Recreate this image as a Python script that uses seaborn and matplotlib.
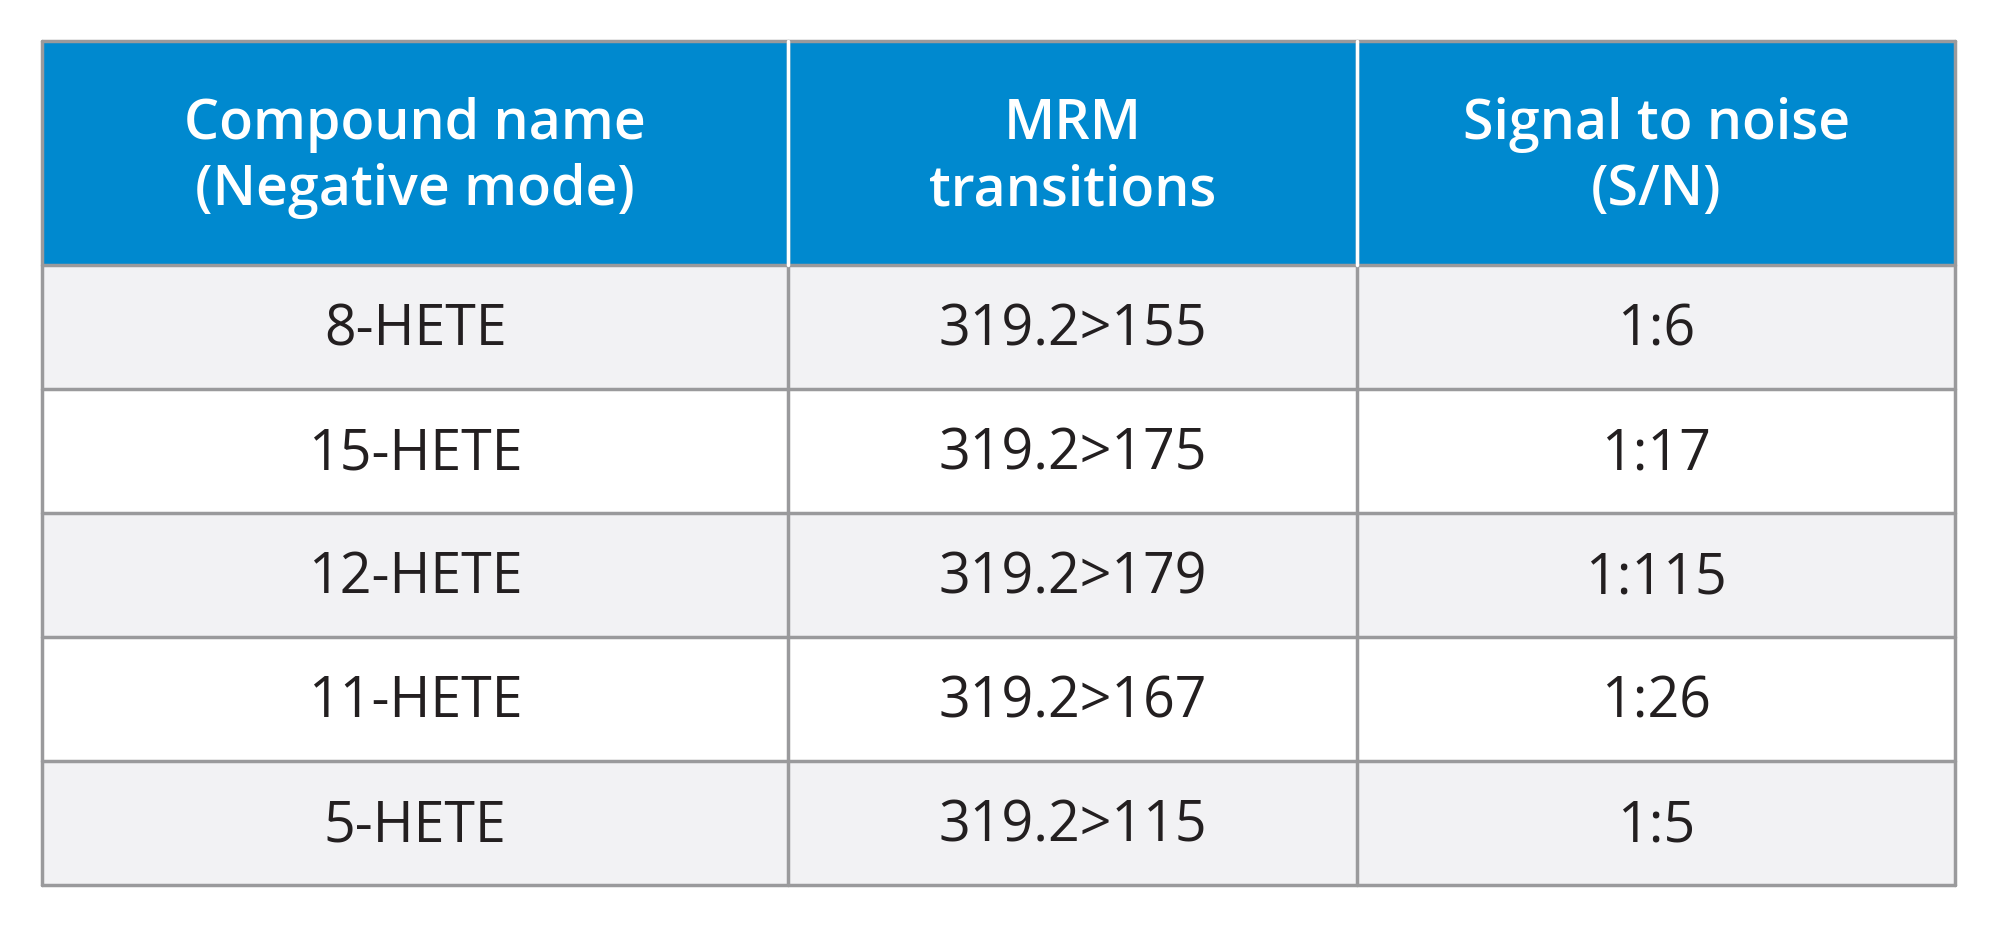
import matplotlib
matplotlib.use("Agg")
import matplotlib.pyplot as plt
import seaborn as sns

sns.set_theme(style="white")
plt.rcParams['font.family'] = ['Open Sans', 'DejaVu Sans']

headers = ["Compound name\n(Negative mode)", "MRM\ntransitions", "Signal to noise\n(S/N)"]
compounds = ["8-HETE", "15-HETE", "12-HETE", "11-HETE", "5-HETE"]
transitions = ["319.2>155", "319.2>175", "319.2>179", "319.2>167", "319.2>115"]
sn = ["1:6", "1:17", "1:115", "1:26", "1:5"]

fig = plt.figure(figsize=(20, 9.37), dpi=100)
ax = fig.add_axes([0, 0, 1, 1])
ax.set_xlim(0, 1568)
ax.set_ylim(735, 0)
ax.axis("off")

col_x = [33, 618, 1064, 1533]
header_top, header_bot = 33, 209
row_h = (695 - 209) / len(compounds)
blue = "#0089CF"
grid = "#9A9A9C"
txt = "#231F20"

ax.add_patch(plt.Rectangle((col_x[0], header_top), col_x[-1] - col_x[0], header_bot - header_top,
                           facecolor=blue, edgecolor="none"))
for i, h in enumerate(headers):
    cx = (col_x[i] + col_x[i + 1]) / 2
    ax.text(cx, (header_top + header_bot) / 2 + 3, h, ha="center", va="center", color="white",
            fontsize=40, fontweight="semibold", linespacing=1.25)

cols = [compounds, transitions, sn]
for r in range(len(compounds)):
    y0 = header_bot + r * row_h
    fc = "#F2F2F4" if r % 2 == 0 else "white"
    ax.add_patch(plt.Rectangle((col_x[0], y0), col_x[-1] - col_x[0], row_h, facecolor=fc, edgecolor="none"))
    for c in range(3):
        cx = (col_x[c] + col_x[c + 1]) / 2
        ax.text(cx, y0 + row_h / 2 + 2, cols[c][r], ha="center", va="center", color=txt, fontsize=40)
    ax.plot([col_x[0], col_x[-1]], [y0, y0], color=grid, lw=2.5)
bottom = header_bot + len(compounds) * row_h
ax.plot([col_x[0], col_x[-1]], [bottom, bottom], color=grid, lw=2.5)
ax.plot([col_x[0], col_x[-1]], [header_top, header_top], color=grid, lw=2.5)
for x in col_x:
    ax.plot([x, x], [header_top, bottom], color=grid if x in (col_x[0], col_x[-1]) else grid, lw=2.5)
for x in col_x[1:-1]:
    ax.plot([x, x], [header_top, header_bot], color="white", lw=2.5)

fig.savefig("out.png", dpi=100, facecolor="white")
